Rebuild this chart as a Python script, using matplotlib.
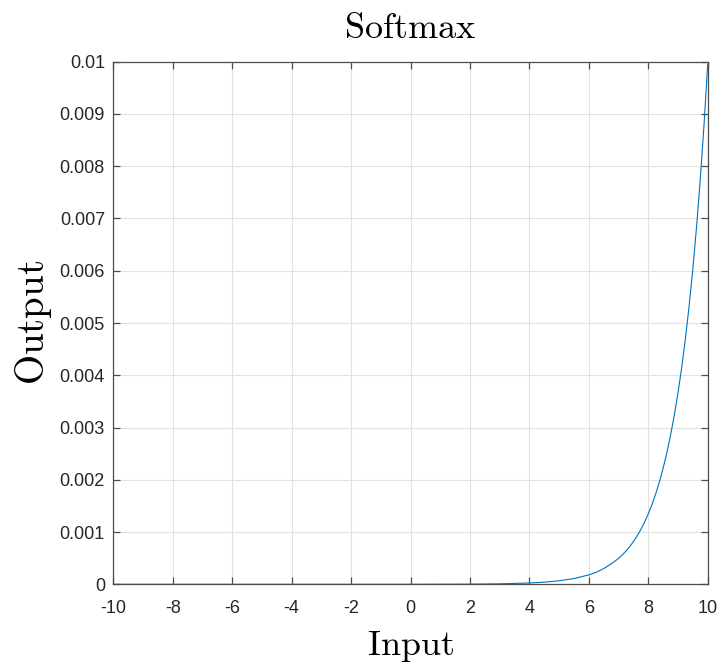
import matplotlib
matplotlib.use('Agg')
import matplotlib.pyplot as plt
from matplotlib.ticker import FixedLocator, FixedFormatter

# softmax output sampled along the input axis
x_in = [-10, 0, 2, 3, 4, 4.5, 5, 5.5, 6, 6.25, 6.5, 6.75, 7, 7.125, 7.25,
        7.375, 7.5, 7.625, 7.75, 7.875, 8, 8.125, 8.25, 8.375, 8.5, 8.625,
        8.75, 8.875, 9, 9.125, 9.25, 9.375, 9.5, 9.625, 9.75, 9.875, 10]
y_out = [0.0, 0.0000005, 0.000003, 0.000009, 0.000025, 0.000041, 0.000067,
         0.00011, 0.00018, 0.00023, 0.00030, 0.00039, 0.000495, 0.000561,
         0.000637, 0.000721, 0.000817, 0.000925, 0.001049, 0.001188,
         0.001347, 0.001526, 0.001730, 0.001959, 0.002221, 0.002516,
         0.002852, 0.003230, 0.003660, 0.004148, 0.004700, 0.005326,
         0.006035, 0.006839, 0.007749, 0.008781, 0.00995]

x_ticks = [-10, -8, -6, -4, -2, 0, 2, 4, 6, 8, 10]
y_ticks = [0, 0.001, 0.002, 0.003, 0.004, 0.005, 0.006, 0.007, 0.008, 0.009, 0.01]
y_labels = ['0', '0.001', '0.002', '0.003', '0.004', '0.005', '0.006',
            '0.007', '0.008', '0.009', '0.01']

plt.rcParams['mathtext.fontset'] = 'cm'
plt.rcParams['axes.unicode_minus'] = False
plt.rcParams['font.family'] = ['Liberation Sans', 'DejaVu Sans']

fig = plt.figure(figsize=(7.21, 6.71), dpi=100)
ax = fig.add_axes([113.3 / 721, 1 - 584.3 / 671, (707.7 - 113.3) / 721, (584.3 - 61.7) / 671])

ax.plot(x_in, y_out, color='#0072BD', lw=0.8, zorder=3)

ax.set_xlim(-10, 10)
ax.set_ylim(0, 0.01)
ax.xaxis.set_major_locator(FixedLocator(x_ticks))
ax.yaxis.set_major_locator(FixedLocator(y_ticks))
ax.yaxis.set_major_formatter(FixedFormatter(y_labels))

ax.grid(True, color='#e2e2e2', lw=0.8)
ax.set_axisbelow(True)
for s in ax.spines.values():
    s.set_color('#4d4d4d')
    s.set_linewidth(0.9)
ax.tick_params(direction='in', length=5, width=0.9, color='#4d4d4d',
               labelcolor='#262626', labelsize=13, top=True, right=True)
ax.tick_params(axis='x', pad=11)
ax.tick_params(axis='y', pad=6)

ax.set_title(r'$\mathrm{Softmax}$', fontsize=26, pad=17)
ax.set_xlabel(r'$\mathrm{Input}$', fontsize=26, labelpad=9)
ax.set_ylabel(r'$\mathrm{Output}$', fontsize=28, labelpad=4)

fig.savefig('out.png', dpi=100)
